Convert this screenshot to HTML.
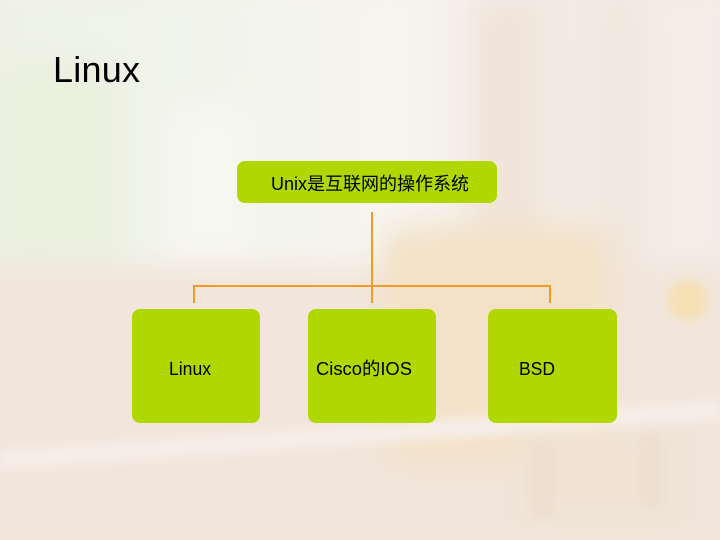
<!DOCTYPE html>
<html><head><meta charset="utf-8"><style>
html,body{margin:0;padding:0;width:720px;height:540px;overflow:hidden;background:#f2e7dd;}
svg{display:block}
</style></head><body>
<svg width="720" height="540" viewBox="0 0 720 540" xmlns="http://www.w3.org/2000/svg">
<defs>
<filter id="b" x="-20%" y="-20%" width="140%" height="140%"><feGaussianBlur stdDeviation="14"/></filter>
<filter id="b2" x="-20%" y="-20%" width="140%" height="140%"><feGaussianBlur stdDeviation="5"/></filter>
<linearGradient id="top" x1="0" y1="0" x2="1" y2="0">
<stop offset="0" stop-color="#eef2e4"/><stop offset="0.3" stop-color="#f2f4ea"/><stop offset="0.55" stop-color="#f6f5ef"/><stop offset="0.75" stop-color="#f3ebe3"/><stop offset="1" stop-color="#f4ece6"/>
</linearGradient>
</defs>
<rect width="720" height="540" fill="#f2e6dc"/>
<g filter="url(#b)">
<rect x="-20" y="-20" width="760" height="290" fill="url(#top)"/>
<rect x="0" y="60" width="120" height="200" fill="#ebf0df"/>
<rect x="170" y="110" width="80" height="150" fill="#f7f7f1"/>
<rect x="470" y="0" width="70" height="270" fill="#f1e4da"/>
<rect x="600" y="0" width="40" height="270" fill="#f2e6dd"/>
<rect x="-20" y="265" width="760" height="300" fill="#f2e5db"/>
<rect x="380" y="225" width="230" height="240" rx="30" fill="#f3e2c8"/>
<rect x="520" y="430" width="160" height="90" fill="#f0e3d4"/>
</g>
<g filter="url(#b2)">
<polygon points="0,450 720,400 720,420 0,470" fill="#f6ede6"/>
<circle cx="688" cy="300" r="20" fill="#f5e0b4"/>
<rect x="530" y="440" width="24" height="80" rx="10" fill="#eddfd0"/>
<rect x="640" y="430" width="22" height="80" rx="10" fill="#eddfd0"/>
</g>

<text x="53" y="82" font-family="'Liberation Sans', sans-serif" font-size="36" fill="#000" textLength="87" lengthAdjust="spacing">Linux</text>

<rect x="237" y="161" width="260" height="42" rx="8" fill="#b0d800"/>
<text x="271" y="190" font-family="'Liberation Sans','Noto Sans CJK SC',sans-serif" font-size="18" fill="#000" textLength="198" lengthAdjust="spacingAndGlyphs">Unix是互联网的操作系统</text>

<g stroke="#f39a27" stroke-width="2" fill="none">
<line x1="372" y1="212" x2="372" y2="303"/>
<polyline points="194,303 194,286 550,286 550,303"/>
</g>

<rect x="132" y="309" width="128" height="114" rx="8" fill="#b0d800"/>
<rect x="308" y="309" width="128" height="114" rx="8" fill="#b0d800"/>
<rect x="488" y="309" width="129" height="114" rx="8" fill="#b0d800"/>

<g font-family="'Liberation Sans','Noto Sans CJK SC',sans-serif" font-size="18" fill="#000">
<text x="169" y="375" textLength="42" lengthAdjust="spacingAndGlyphs">Linux</text>
<text x="316" y="375" textLength="96" lengthAdjust="spacingAndGlyphs">Cisco的IOS</text>
<text x="519" y="375" textLength="36" lengthAdjust="spacingAndGlyphs">BSD</text>
</g>
</svg>
</body></html>
